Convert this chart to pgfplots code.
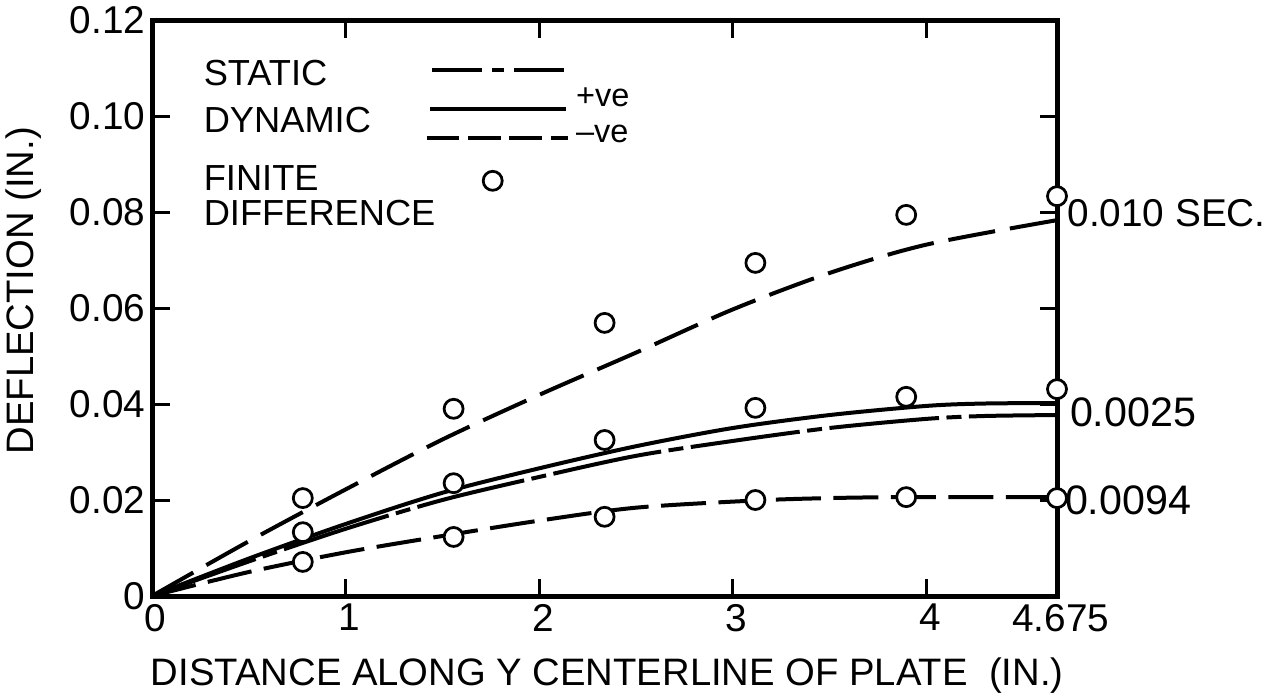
\documentclass[border=0pt]{standalone}
\usepackage{fontspec}
\setmainfont{Liberation Sans}
\usepackage{pgfplots}
\pgfplotsset{compat=1.18}

\begin{document}
\begin{tikzpicture}
\begin{axis}[
  at={(0,0)}, anchor=origin,
  scale only axis, width=362pt, height=230.4pt,
  xmin=0, xmax=4.675, ymin=0, ymax=0.12,
  axis line style={line width=2pt},
  tick align=inside, tick pos=both,
  major tick length=7pt,
  every tick/.style={black, line width=1.2pt},
  xtick={0,1,2,3,4,4.675}, xticklabels={0,1,2,3,4,4.675},
  ytick={0,0.02,0.04,0.06,0.08,0.10,0.12},
  yticklabels={0,0.02,0.04,0.06,0.08,0.10,0.12},
  tick label style={font=\fontsize{15.5}{18}\selectfont},
  xticklabel style={inner sep=1pt, yshift=-2pt, xshift=1.5pt},
  yticklabel style={inner sep=2.5pt},
  xlabel={DISTANCE ALONG Y CENTERLINE OF PLATE\ \ (IN.)},
  ylabel={DEFLECTION (IN.)},
  label style={font=\fontsize{15.3}{18}\selectfont},
  xlabel style={at={(axis description cs:0.503,-0.139)}, anchor=center},
  ylabel style={at={(axis description cs:-0.142,0.53)}, anchor=center},
  clip=false,
  every axis plot/.append style={black},
]
% 0.010 sec, dynamic -ve
\addplot[line width=1.6pt, smooth, dash pattern=on 19pt off 6pt] coordinates {
 (0,0) (0.5,0.0114) (1,0.0222) (1.5,0.0326) (2,0.0419) (2.5,0.0507)
 (3,0.0597) (3.5,0.0673) (4,0.0732) (4.675,0.0783)};
% 0.0025 sec, dynamic +ve
\addplot[line width=1.6pt, smooth] coordinates {
 (0,0) (0.5,0.0078) (1,0.0150) (1.5,0.0215) (2,0.0266) (2.5,0.0312)
 (3,0.0350) (3.5,0.0377) (4,0.0396) (4.3,0.0401) (4.675,0.0402)};
% static
\addplot[line width=1.6pt, smooth, dash pattern=on 44pt off 3pt on 6pt off 3pt] coordinates {
 (0,0) (0.5,0.0072) (1,0.0140) (1.5,0.0200) (2,0.0248) (2.5,0.0292)
 (3,0.0323) (3.5,0.0350) (4,0.0369) (4.3,0.0375) (4.675,0.0377)};
% 0.0094 sec, dynamic -ve
\addplot[line width=1.6pt, smooth, dash pattern=on 18pt off 5pt] coordinates {
 (0,0) (0.5,0.0050) (1,0.0091) (1.5,0.0125) (2,0.0157) (2.5,0.0184)
 (3.117,0.0199) (3.5,0.0204) (3.896,0.0206) (4.675,0.0206)};

% finite difference
\addplot[only marks, mark=*, mark size=3.8pt, mark options={fill=white, draw=black, line width=1.1pt}] coordinates {
 (0.779,0.0204) (1.558,0.0390) (2.338,0.0569) (3.117,0.0694) (3.896,0.0794) (4.675,0.0833)
 (0.779,0.0133) (1.558,0.0235) (2.338,0.0325) (3.117,0.0392) (3.896,0.0415) (4.675,0.0431)
 (0.779,0.0071) (1.558,0.0123) (2.338,0.0165) (3.117,0.0200) (3.896,0.0206) (4.675,0.0204)};

% legend
\addplot[line width=1.6pt, dash pattern=on 20pt off 4pt on 5pt off 4pt] coordinates {(1.446,0.1096) (2.14,0.1096)};
\addplot[line width=1.6pt] coordinates {(1.436,0.1015) (2.14,0.1015)};
\addplot[line width=1.6pt, dash pattern=on 13pt off 3.5pt] coordinates {(1.42,0.0954) (2.149,0.0954)};
\addplot[only marks, mark=*, mark size=3.8pt, mark options={fill=white, draw=black, line width=1.1pt}] coordinates {(1.76,0.0865)};

\begin{scope}[font=\fontsize{14.5}{16}\selectfont]
\node[anchor=west] at (axis cs:0.222,0.1090) {STATIC};
\node[anchor=west] at (axis cs:0.222,0.0992) {DYNAMIC};
\node[anchor=west] at (axis cs:0.222,0.0871) {FINITE};
\node[anchor=west] at (axis cs:0.222,0.0798) {DIFFERENCE};
\end{scope}
\begin{scope}[font=\fontsize{13}{15}\selectfont]
\node[anchor=west, inner sep=1pt] at (axis cs:2.175,0.1038) {+ve};
\node[anchor=west, inner sep=1pt] at (axis cs:2.175,0.0963) {--ve};
\end{scope}

\node[anchor=west, inner sep=1pt, xshift=3pt, font=\fontsize{15.5}{18}\selectfont] at (axis cs:4.675,0.0798) {0.010 SEC.};
\begin{scope}[font=\fontsize{16.5}{19}\selectfont]
\node[anchor=west, inner sep=1pt, xshift=4pt] at (axis cs:4.675,0.0383) {0.0025};
\node[anchor=west, inner sep=1pt, xshift=2pt] at (axis cs:4.675,0.0200) {0.0094};
\end{scope}
\end{axis}
\pgfresetboundingbox
\useasboundingbox (-60.8pt,-40.8pt) rectangle (448pt,238.4pt);
\end{tikzpicture}
\end{document}
